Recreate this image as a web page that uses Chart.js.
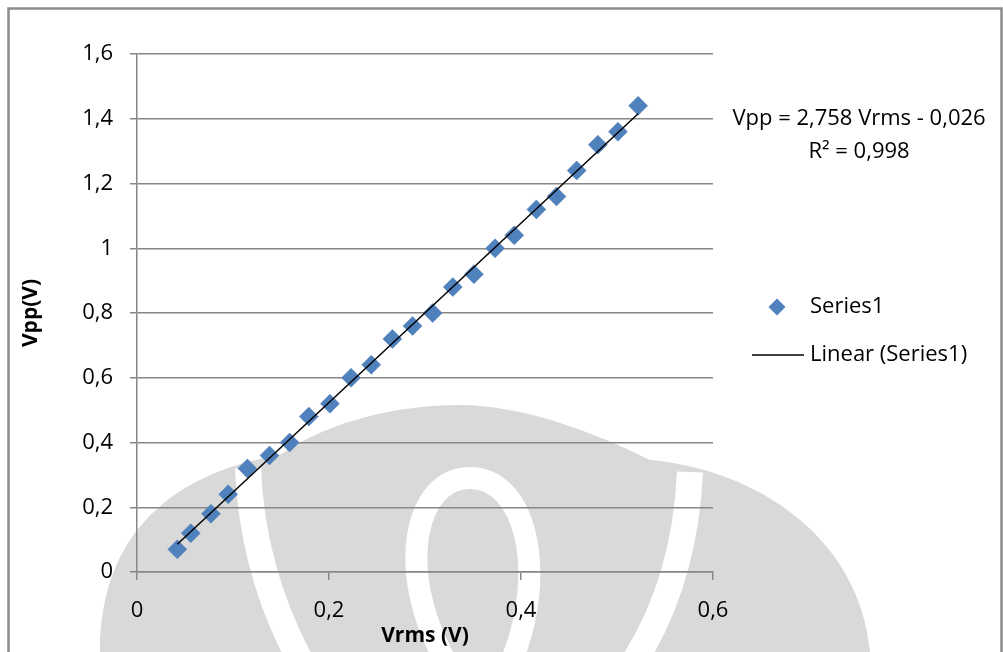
<!DOCTYPE html>
<html>
<head>
<meta charset="utf-8">
<script src="https://cdn.jsdelivr.net/npm/chart.js@4.4.1/dist/chart.umd.min.js"></script>
<style>
  html, body { margin: 0; padding: 0; background: #ffffff; }
  #wrap { width: 1003px; height: 652px; position: relative; }
</style>
</head>
<body>
<div id="wrap"><canvas id="chart" width="1003" height="652"></canvas></div>
<script>
// Vrms (V) measured values
const vrms = [0.042, 0.056, 0.077, 0.095, 0.115, 0.138, 0.159, 0.179, 0.201, 0.223,
              0.244, 0.266, 0.287, 0.308, 0.329, 0.351, 0.373, 0.393, 0.416, 0.437,
              0.458, 0.480, 0.501, 0.522];
// Vpp (V) measured values
const vpp = [0.07, 0.12, 0.18, 0.24, 0.32, 0.36, 0.40, 0.48, 0.52, 0.60,
             0.64, 0.72, 0.76, 0.80, 0.88, 0.92, 1.00, 1.04, 1.12, 1.16,
             1.24, 1.32, 1.36, 1.44];

const xTickLabels = ["0", "0,2", "0,4", "0,6"];
const yTickLabels = ["0", "0,2", "0,4", "0,6", "0,8", "1", "1,2", "1,4", "1,6"];

const seriesName = "Series1";
const trendName = "Linear (Series1)";
const equationLines = ["Vpp = 2,758 Vrms - 0,026", "R\u00b2 = 0,998"];

const FONT = "'Open Sans', 'Liberation Sans', sans-serif";
const GRID = "#878787";
const BLUE = "#4f81bd";

// least squares trendline from the data
const n = vrms.length;
const mx = vrms.reduce((a, b) => a + b, 0) / n;
const my = vpp.reduce((a, b) => a + b, 0) / n;
let sxy = 0, sxx = 0;
for (let i = 0; i < n; i++) {
    sxy += (vrms[i] - mx) * (vpp[i] - my);
    sxx += (vrms[i] - mx) * (vrms[i] - mx);
}
const slope = sxy / sxx;
const intercept = my - slope * mx;
const xMin = Math.min(...vrms), xMax = Math.max(...vrms);

const points = vrms.map((x, i) => ({ x: x, y: vpp[i] }));
const trend = [
    { x: xMin, y: slope * xMin + intercept },
    { x: xMax, y: slope * xMax + intercept },
];

// faint scanned watermark behind the plot (rough shape)
const watermark = {
    id: "watermark",
    beforeDraw(chart) {
        const ctx = chart.ctx;
        ctx.save();
        ctx.fillStyle = "#d9d9d9";
        ctx.beginPath();
        ctx.moveTo(100, 652);
        ctx.bezierCurveTo(100, 520, 190, 470, 280, 455);
        ctx.bezierCurveTo(330, 420, 400, 405, 460, 405);
        ctx.bezierCurveTo(520, 405, 590, 430, 650, 460);
        ctx.bezierCurveTo(760, 470, 860, 540, 870, 652);
        ctx.closePath();
        ctx.fill();

        ctx.strokeStyle = "#ffffff";
        ctx.lineWidth = 26;
        ctx.beginPath();
        ctx.moveTo(248, 468);
        ctx.quadraticCurveTo(252, 570, 300, 660);
        ctx.stroke();
        ctx.beginPath();
        ctx.moveTo(690, 472);
        ctx.quadraticCurveTo(685, 580, 635, 660);
        ctx.stroke();
        ctx.lineWidth = 22;
        ctx.beginPath();
        ctx.moveTo(445, 660);
        ctx.bezierCurveTo(395, 570, 415, 478, 470, 478);
        ctx.bezierCurveTo(525, 478, 548, 570, 512, 660);
        ctx.stroke();
        ctx.restore();
    }
};

// frame, custom legend and equation text
const decorations = {
    id: "decorations",
    afterDraw(chart) {
        const ctx = chart.ctx;
        ctx.save();
        ctx.strokeStyle = "#8c8c8c";
        ctx.lineWidth = 2.5;
        ctx.strokeRect(8.5, 8.5, 993, 700);

        ctx.fillStyle = "#000";
        ctx.font = "22px " + FONT;
        ctx.textAlign = "center";
        ctx.textBaseline = "middle";
        ctx.fillText(equationLines[0], 859, 119);
        ctx.fillText(equationLines[1], 859, 152);

        // legend: series marker
        ctx.fillStyle = BLUE;
        ctx.beginPath();
        ctx.moveTo(777, 298.5);
        ctx.lineTo(785.5, 307);
        ctx.lineTo(777, 315.5);
        ctx.lineTo(768.5, 307);
        ctx.closePath();
        ctx.fill();
        // legend: trend line
        ctx.strokeStyle = "#000";
        ctx.lineWidth = 1.5;
        ctx.beginPath();
        ctx.moveTo(752, 355);
        ctx.lineTo(804, 355);
        ctx.stroke();

        ctx.fillStyle = "#000";
        ctx.textAlign = "left";
        ctx.fillText(seriesName, 810, 307);
        ctx.fillText(trendName, 810, 355);
        ctx.restore();
    }
};

new Chart(document.getElementById("chart"), {
    type: "scatter",
    data: {
        datasets: [
            {
                label: trendName,
                data: trend,
                type: "line",
                showLine: true,
                borderColor: "#000000",
                borderWidth: 1.5,
                pointRadius: 0,
                fill: false,
                order: 0,
            },
            {
                label: seriesName,
                data: points,
                pointStyle: "rectRot",
                pointRadius: 9.5,
                pointHoverRadius: 9.5,
                backgroundColor: BLUE,
                borderColor: "#4a7ab3",
                borderWidth: 0.5,
                order: 1,
            },
        ],
    },
    options: {
        responsive: false,
        animation: false,
        layout: { padding: { left: 18, top: 54, right: 290, bottom: 0 } },
        plugins: {
            legend: { display: false },
            tooltip: { enabled: false },
        },
        scales: {
            x: {
                type: "linear",
                min: 0,
                max: 0.6,
                afterFit(scale) { scale.height = 80; },
                ticks: {
                    stepSize: 0.2,
                    padding: 18,
                    color: "#000",
                    font: { family: FONT, size: 22 },
                    callback: (v, i) => xTickLabels[i],
                },
                grid: {
                    drawOnChartArea: false,
                    drawTicks: true,
                    tickLength: 8,
                    color: GRID,
                    lineWidth: 1.5,
                },
                border: { color: GRID, width: 1.5 },
                title: {
                    display: true,
                    text: "Vrms (V)",
                    color: "#000",
                    font: { family: FONT, size: 21, weight: "bold" },
                    padding: { top: 0, bottom: 3 },
                },
            },
            y: {
                min: 0,
                max: 1.6,
                afterFit(scale) { scale.width = 119; },
                ticks: {
                    stepSize: 0.2,
                    padding: 17,
                    color: "#000",
                    font: { family: FONT, size: 22 },
                    callback: (v, i) => yTickLabels[i],
                },
                grid: {
                    drawOnChartArea: true,
                    drawTicks: true,
                    tickLength: 7,
                    color: GRID,
                    lineWidth: 1.5,
                },
                border: { color: GRID, width: 1.5 },
                title: {
                    display: true,
                    text: "Vpp(V)",
                    color: "#000",
                    font: { family: FONT, size: 21, weight: "bold" },
                    padding: { top: 0, bottom: 0 },
                },
            },
        },
    },
    plugins: [watermark, decorations],
});
</script>
</body>
</html>
